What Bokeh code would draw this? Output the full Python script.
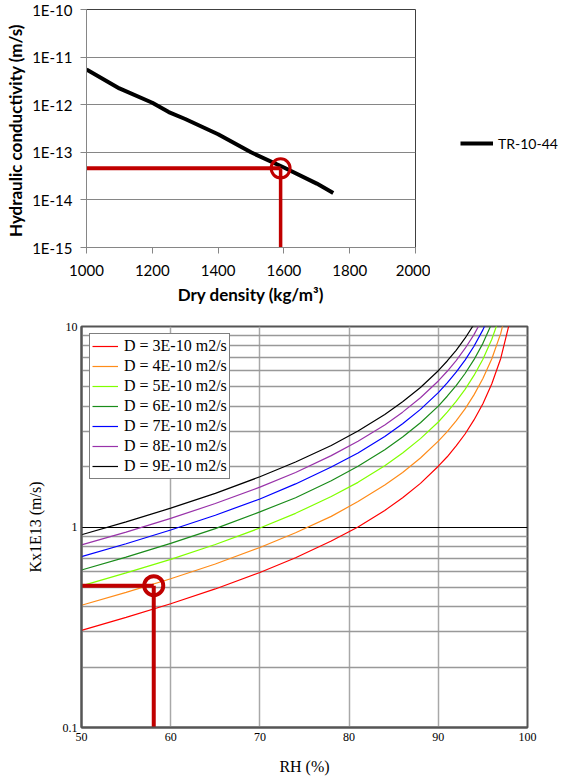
from bokeh.plotting import figure
from bokeh.layouts import column, row
from bokeh.models import (FixedTicker, CustomJSTickFormatter, Legend, LegendItem)
from bokeh.embed import file_html
from bokeh.resources import INLINE

# ---------------- data: top chart ----------------
top_density = [1000, 1100, 1200, 1250, 1300, 1400, 1500, 1600, 1700, 1750]
top_k = [5.5e-12, 2.2e-12, 1.1e-12, 7.0e-13, 5.0e-13, 2.4e-13, 1.0e-13, 4.8e-14, 2.2e-14, 1.4e-14]
top_series_label = "TR-10-44"
top_x_ticks = [1000, 1200, 1400, 1600, 1800, 2000]
top_y_ticks = [1e-15, 1e-14, 1e-13, 1e-12, 1e-11, 1e-10]
top_pick_density = 1590
top_pick_k = 4.6e-14

# ---------------- data: bottom chart ----------------
rh = [50, 55, 60, 65, 70, 74, 78, 81, 84, 86, 88, 90, 91, 92, 93, 94, 95, 96, 97, 98]
k_d3 = [0.305, 0.354, 0.414, 0.491, 0.593, 0.702, 0.851, 1.00, 1.21, 1.40, 1.65, 2.01, 2.24, 2.54, 2.91, 3.42, 4.12, 5.18, 6.93, 10.5]
k_d4 = [0.407, 0.472, 0.552, 0.654, 0.790, 0.936, 1.13, 1.34, 1.62, 1.87, 2.21, 2.68, 2.99, 3.38, 3.88, 4.56, 5.50, 6.91, 9.24, 13.96]
k_d5 = [0.509, 0.590, 0.690, 0.818, 0.988, 1.17, 1.42, 1.67, 2.02, 2.34, 2.76, 3.34, 3.74, 4.23, 4.86, 5.70, 6.87, 8.64, 11.56, 17.45]
k_d6 = [0.610, 0.707, 0.828, 0.982, 1.19, 1.40, 1.70, 2.01, 2.43, 2.81, 3.31, 4.01, 4.49, 5.07, 5.83, 6.83, 8.24, 10.37, 13.87, 20.9]
k_d7 = [0.712, 0.825, 0.966, 1.145, 1.38, 1.64, 1.99, 2.34, 2.83, 3.27, 3.86, 4.68, 5.23, 5.92, 6.80, 7.97, 9.62, 12.1, 16.2, 24.4]
k_d8 = [0.814, 0.943, 1.104, 1.309, 1.58, 1.87, 2.27, 2.68, 3.23, 3.74, 4.41, 5.35, 5.98, 6.76, 7.77, 9.11, 11.0, 13.8, 18.5, 27.9]
k_d9 = [0.915, 1.061, 1.242, 1.472, 1.78, 2.11, 2.55, 3.01, 3.64, 4.21, 4.96, 6.02, 6.73, 7.61, 8.74, 10.25, 12.4, 15.6, 20.8, 31.4]
d_labels = ["D = 3E-10 m2/s", "D = 4E-10 m2/s", "D = 5E-10 m2/s", "D = 6E-10 m2/s",
            "D = 7E-10 m2/s", "D = 8E-10 m2/s", "D = 9E-10 m2/s"]
d_colors = ["#ff0000", "#ff8c1a", "#80ff00", "#1a8c1a", "#0000ff", "#9933aa", "#000000"]
bottom_x_ticks = [50, 60, 70, 80, 90, 100]
bottom_y_major = [0.1, 1, 10]
bottom_y_minor = [0.2, 0.3, 0.4, 0.5, 0.6, 0.7, 0.8, 0.9, 2, 3, 4, 5, 6, 7, 8, 9]
bottom_pick_rh = 58.1
bottom_pick_k = 0.51

PICK = "#c00000"
SANS = "Lato"
SERIF = "Liberation Serif"

# ================= top figure =================
p1 = figure(width=430, height=310, x_range=(top_x_ticks[0], top_x_ticks[-1]),
            y_range=(top_y_ticks[0], top_y_ticks[-1]), y_axis_type="log",
            output_backend="svg", toolbar_location=None,
            min_border_left=86, min_border_right=15, min_border_top=9, min_border_bottom=63)
p1.frame_align = False
p1.background_fill_color = "white"
p1.border_fill_color = "white"
p1.outline_line_color = "#404040"
p1.outline_line_width = 1

p1.xaxis.ticker = FixedTicker(ticks=top_x_ticks)
p1.yaxis.ticker = FixedTicker(ticks=top_y_ticks, minor_ticks=[])
p1.yaxis.formatter = CustomJSTickFormatter(code="return '1E' + Math.round(Math.log10(tick)).toString();")
for ax in (p1.xaxis, p1.yaxis):
    ax.axis_line_color = "#868686"
    ax.major_tick_line_color = "#868686"
    ax.major_tick_out = 6
    ax.major_tick_in = 0
    ax.minor_tick_line_color = None
    ax.major_label_text_font = SANS
    ax.major_label_text_font_size = "15px"
    ax.major_label_text_color = "black"
    ax.axis_label_text_font = SANS
    ax.axis_label_text_font_style = "bold"
    ax.axis_label_text_font_size = "17px"
    ax.axis_label_text_color = "black"
p1.xaxis.major_label_standoff = 11
p1.xaxis.axis_label_standoff = 5
p1.yaxis.major_label_standoff = 8
p1.yaxis.axis_label_standoff = 3
p1.xaxis.axis_label = "Dry density (kg/m³)"
p1.yaxis.axis_label = "Hydraulic conductivity  (m/s)"
p1.xgrid.grid_line_color = None
p1.ygrid.grid_line_color = "#868686"
p1.ygrid.grid_line_width = 1

p1.line(top_density, top_k, line_color="black", line_width=4)

# pick lines
p1.line([top_x_ticks[0], top_pick_density], [top_pick_k, top_pick_k], line_color=PICK, line_width=4)
p1.line([top_pick_density, top_pick_density], [top_y_ticks[0], top_pick_k], line_color=PICK, line_width=3.5)
p1.scatter([top_pick_density], [top_pick_k], marker="circle", size=19, fill_alpha=0,
           line_color=PICK, line_width=3)

# legend panel for the top chart (same series drawn off-frame, only the legend shows)
pl = figure(width=132, height=310, x_range=(0, 1), y_range=(0, 1),
            output_backend="svg", toolbar_location=None, min_border=0)
pl.frame_align = False
pl.axis.visible = False
pl.grid.grid_line_color = None
pl.outline_line_color = None
pl.background_fill_color = "white"
pl.border_fill_color = "white"
r_leg = pl.line(top_density, top_k, line_color="black", line_width=4)
leg1 = Legend(items=[LegendItem(label=top_series_label, renderers=[r_leg])],
              location=(30, 157), padding=0, margin=0, glyph_width=33, glyph_height=20,
              label_standoff=5, border_line_alpha=0, background_fill_alpha=0,
              label_text_font=SANS, label_text_font_size="14px", label_text_color="black")
pl.add_layout(leg1, "center")

# ================= bottom figure =================
p2 = figure(width=562, height=474, x_range=(bottom_x_ticks[0], bottom_x_ticks[-1]),
            y_range=(bottom_y_major[0], bottom_y_major[-1]), y_axis_type="log",
            output_backend="svg", toolbar_location=None,
            min_border_left=81, min_border_right=35, min_border_top=16, min_border_bottom=57)
p2.frame_align = False
p2.background_fill_color = "white"
p2.border_fill_color = "white"
p2.outline_line_color = "#555555"
p2.outline_line_width = 2

p2.xaxis.ticker = FixedTicker(ticks=bottom_x_ticks)
p2.yaxis.ticker = FixedTicker(ticks=bottom_y_major, minor_ticks=bottom_y_minor)
p2.yaxis.formatter = CustomJSTickFormatter(code="return tick >= 1 ? tick.toFixed(0) : tick.toFixed(1);")
for ax in (p2.xaxis, p2.yaxis):
    ax.axis_line_color = "#555555"
    ax.axis_line_width = 2
    ax.major_tick_line_color = None
    ax.minor_tick_line_color = None
    ax.major_tick_out = 0
    ax.major_tick_in = 0
    ax.minor_tick_out = 0
    ax.major_label_text_font = SERIF
    ax.major_label_text_font_size = "12px"
    ax.major_label_text_color = "black"
    ax.axis_label_text_font = SERIF
    ax.axis_label_text_font_style = "normal"
    ax.axis_label_text_font_size = "16px"
    ax.axis_label_text_color = "black"
p2.xaxis.major_label_standoff = 5
p2.xaxis.axis_label_standoff = 14
p2.yaxis.major_label_standoff = 4
p2.yaxis.axis_label_standoff = 16
p2.xaxis.axis_label = "RH (%)"
p2.yaxis.axis_label = "Kx1E13 (m/s)"

p2.xgrid.grid_line_color = "#a8a8a8"
p2.xgrid.grid_line_width = 1.5
p2.ygrid.grid_line_color = "black"
p2.ygrid.grid_line_width = 1
p2.ygrid.minor_grid_line_color = "#999999"
p2.ygrid.minor_grid_line_width = 1.5

series = [k_d3, k_d4, k_d5, k_d6, k_d7, k_d8, k_d9]
items = []
for vals, col, lab in zip(series, d_colors, d_labels):
    r = p2.line(rh, vals, line_color=col, line_width=1.2)
    items.append(LegendItem(label=lab, renderers=[r]))

p2.line([bottom_x_ticks[0], bottom_pick_rh], [bottom_pick_k, bottom_pick_k], line_color=PICK, line_width=4)
p2.line([bottom_pick_rh, bottom_pick_rh], [bottom_y_major[0], bottom_pick_k], line_color=PICK, line_width=4)
p2.scatter([bottom_pick_rh], [bottom_pick_k], marker="circle", size=19, fill_alpha=0,
           line_color=PICK, line_width=4)

leg2 = Legend(items=items, location=(8, 248), padding=2, margin=0, spacing=0,
              glyph_width=26, glyph_height=20, label_height=20, label_standoff=6,
              border_line_color="black", border_line_width=1,
              background_fill_color="white", background_fill_alpha=1,
              label_text_font=SERIF, label_text_font_size="16px", label_text_color="black")
p2.add_layout(leg2, "center")

layout = column(row(p1, pl, spacing=0), p2, spacing=0)
open("out.html", "w").write(file_html(layout, INLINE))
